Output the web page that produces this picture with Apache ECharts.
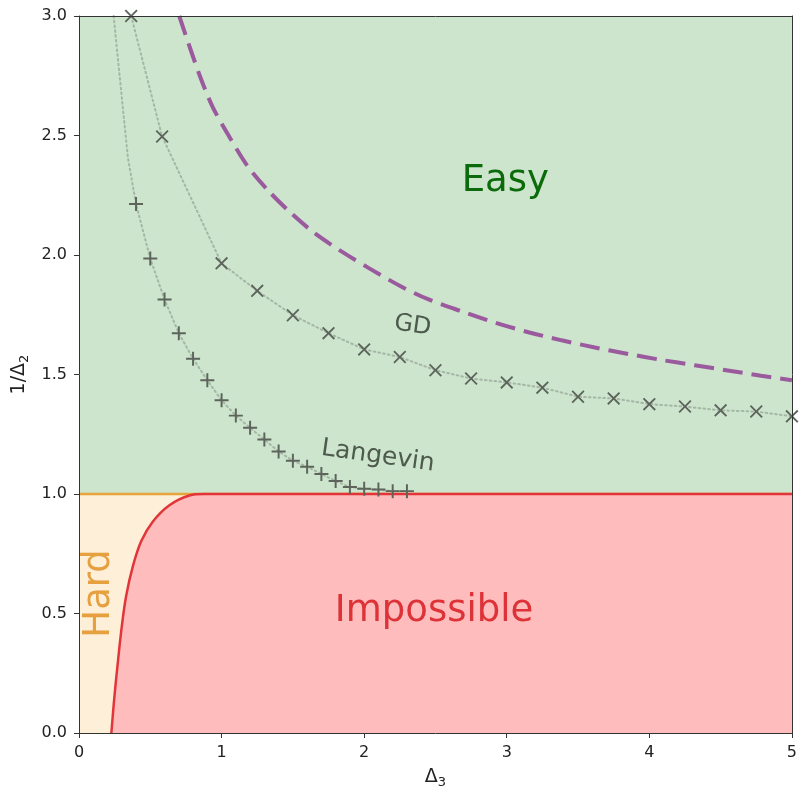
<!DOCTYPE html>
<html>
<head>
<meta charset="utf-8">
<script src="https://cdn.jsdelivr.net/npm/echarts@6/dist/echarts.min.js"></script>
<style>
html,body{margin:0;padding:0;background:#fff;overflow:hidden;}
#c{width:800px;height:794px;}
</style>
</head>
<body>
<div id="c"></div>
<script>
// ---- data ----
var xTicks = [0, 1, 2, 3, 4, 5];
var yTicks = [0.0, 0.5, 1.0, 1.5, 2.0, 2.5, 3.0];

// GD markers (x)
var gdX = [0.366, 0.583, 1.0, 1.25, 1.5, 1.75, 2.0, 2.25, 2.5, 2.75, 3.0, 3.25, 3.5, 3.75, 4.0, 4.25, 4.5, 4.75, 5.0];
var gdY = [3.0, 2.496, 1.965, 1.850, 1.748, 1.673, 1.605, 1.573, 1.518, 1.483, 1.467, 1.445, 1.407, 1.400, 1.376, 1.366, 1.350, 1.345, 1.325];

// Langevin markers (+)
var lgX = [0.4, 0.5, 0.6, 0.7, 0.8, 0.9, 1.0, 1.1, 1.2, 1.3, 1.4, 1.5, 1.6, 1.7, 1.8, 1.9, 2.0, 2.1, 2.2, 2.3];
var lgY = [2.213, 1.985, 1.814, 1.673, 1.566, 1.476, 1.392, 1.328, 1.277, 1.228, 1.178, 1.139, 1.114, 1.084, 1.054, 1.029, 1.022, 1.019, 1.012, 1.012];
// Langevin dotted line above the first marker
var lgTopX = [0.243, 0.273, 0.308, 0.343];
var lgTopY = [3.0, 2.82, 2.613, 2.407];

// purple dashed threshold curve
var dashX = [0.703, 0.844, 0.937, 1.054, 1.182, 1.334, 1.497, 1.66, 1.846, 2.033, 2.266, 2.452, 2.685, 2.919, 3.152, 3.385, 3.618, 3.851, 4.084, 4.317, 4.55, 4.783, 5.0];
var dashY = [3.0, 2.755, 2.620, 2.495, 2.372, 2.265, 2.170, 2.088, 2.013, 1.945, 1.866, 1.814, 1.764, 1.717, 1.677, 1.643, 1.613, 1.586, 1.561, 1.539, 1.517, 1.495, 1.476];

// red impossible boundary
var redX = [0.227, 0.248, 0.273, 0.301, 0.331, 0.378, 0.436, 0.517, 0.634, 0.774, 0.880, 5.0];
var redY = [0.0, 0.150, 0.299, 0.450, 0.574, 0.698, 0.802, 0.884, 0.953, 0.994, 1.0, 1.0];

// hard threshold line
var hardLineX = [0, 5];
var hardLineY = [1, 1];

// region names and anchors
var regionNames = ['Easy', 'Impossible', 'Hard', 'GD', 'Langevin'];
var regionAnchorX = [2.99, 2.49, 0.145, 2.34, 2.096];
var regionAnchorY = [2.307, 0.51, 0.584, 1.704, 1.158];

// ---- build ----
function zip(a, b) { return a.map(function (v, i) { return [v, b[i]]; }); }

var FONT = 'DejaVu Sans';
var xSym = 'path://M0,0.1 L0.1,0 L0.5,0.4 L0.9,0 L1,0.1 L0.6,0.5 L1,0.9 L0.9,1 L0.5,0.6 L0.1,1 L0,0.9 L0.4,0.5 Z';
var plusSym = 'path://M0,0.43 L1,0.43 L1,0.57 L0,0.57 Z M0.43,0 L0.57,0 L0.57,1 L0.43,1 Z';

var labelStyles = [
  {color: '#0b6b0b', fontSize: 37, rotate: 0},
  {color: '#dd3338', fontSize: 37, rotate: 0},
  {color: '#e6a040', fontSize: 37, rotate: 90},
  {color: '#4d5a4d', fontSize: 24, rotate: -8},
  {color: '#4d5a4d', fontSize: 25, rotate: -8}
];
var annData = regionNames.map(function (n, i) {
  return {
    name: n,
    value: [regionAnchorX[i], regionAnchorY[i]],
    label: {
      show: true, position: 'inside', formatter: n, align: 'center', verticalAlign: 'middle',
      color: labelStyles[i].color, fontSize: labelStyles[i].fontSize,
      rotate: labelStyles[i].rotate, fontFamily: FONT
    }
  };
});

var nameRich = {
  m: {fontSize: 19, lineHeight: 24, verticalAlign: 'middle', color: '#222', fontFamily: FONT},
  s: {fontSize: 13, lineHeight: 24, verticalAlign: 'bottom', color: '#222', fontFamily: FONT}
};

var el = document.getElementById('c');
var chart = echarts.init(el, null, {renderer: 'canvas', width: 800, height: 794});
var dotted = {color: '#a6b6a6', width: 2, type: [1.6, 3.2], cap: 'round'};
var markerColor = '#5c645c';

chart.setOption({
  animation: false,
  backgroundColor: '#ffffff',
  textStyle: {fontFamily: FONT},
  grid: {left: 79, right: 6, top: 16, bottom: 52, show: false},
  xAxis: [{
    type: 'value', min: xTicks[0], max: xTicks[xTicks.length - 1], interval: 1,
    name: '{m|Δ}{s|3}', nameLocation: 'middle', nameGap: 32,
    nameTextStyle: {rich: nameRich},
    axisLine: {show: true, onZero: false, lineStyle: {color: '#333', width: 1}},
    axisTick: {show: true, length: 5, lineStyle: {color: '#333'}},
    axisLabel: {color: '#222', fontSize: 16, margin: 12, fontFamily: FONT},
    splitLine: {show: false}, z: 10
  }, {
    type: 'value', position: 'top', min: 0, max: 5,
    axisLine: {show: true, onZero: false, lineStyle: {color: '#333', width: 1}},
    axisTick: {show: false}, axisLabel: {show: false}, splitLine: {show: false}, z: 10
  }],
  yAxis: [{
    type: 'value', min: yTicks[0], max: yTicks[yTicks.length - 1], interval: 0.5,
    name: '{m|1/Δ}{s|2}', nameLocation: 'middle', nameGap: 45, nameRotate: 90,
    nameTextStyle: {rich: nameRich},
    axisLine: {show: true, onZero: false, lineStyle: {color: '#333', width: 1}},
    axisTick: {show: true, length: 5, lineStyle: {color: '#333'}},
    axisLabel: {color: '#222', fontSize: 16, margin: 12, fontFamily: FONT,
      formatter: function (v) { return v.toFixed(1); }},
    splitLine: {show: false}, z: 10
  }, {
    type: 'value', position: 'right', min: 0, max: 3,
    axisLine: {show: true, onZero: false, lineStyle: {color: '#333', width: 1}},
    axisTick: {show: false}, axisLabel: {show: false}, splitLine: {show: false}, z: 10
  }],
  series: [
    { // regions backgrounds
      type: 'line', data: [], silent: true, z: 0,
      markArea: {
        silent: true,
        data: [
          [{yAxis: 1, itemStyle: {color: '#cce5cc'}}, {yAxis: 3}],
          [{yAxis: 0, itemStyle: {color: '#feefd9'}}, {yAxis: 1}]
        ]
      }
    },
    { // hard threshold line
      type: 'line', data: zip(hardLineX, hardLineY), showSymbol: false, silent: true, z: 2,
      lineStyle: {color: '#e8a33a', width: 2.5}
    },
    { // impossible region
      type: 'line', data: zip(redX, redY), showSymbol: false, silent: true, z: 3,
      smooth: 0.35,
      lineStyle: {color: '#e2353a', width: 2.5},
      areaStyle: {color: '#ffbcbc', opacity: 1, origin: 'start'}
    },
    { // purple dashed
      type: 'line', data: zip(dashX, dashY), showSymbol: false, silent: true, z: 4,
      smooth: 0.3, clip: true,
      lineStyle: {color: '#9b5a9e', width: 4, type: [20, 9]}
    },
    { // GD dotted line through markers
      type: 'line', data: zip(gdX, gdY),
      showSymbol: false, silent: true, z: 4, lineStyle: dotted
    },
    { // Langevin dotted line
      type: 'line', data: zip(lgTopX, lgTopY).concat(zip(lgX, lgY)),
      showSymbol: false, silent: true, z: 4, lineStyle: dotted
    },
    { // GD markers
      type: 'scatter', data: zip(gdX, gdY), symbol: xSym, symbolSize: 13, silent: true, z: 5,
      itemStyle: {color: markerColor, opacity: 1}
    },
    { // Langevin markers
      type: 'scatter', data: zip(lgX, lgY), symbol: plusSym, symbolSize: 14, silent: true, z: 5,
      itemStyle: {color: markerColor, opacity: 1}
    },
    { // region labels
      type: 'scatter', data: annData, symbol: 'circle', symbolSize: 1, silent: true, z: 6,
      itemStyle: {color: 'rgba(0,0,0,0)', opacity: 1}
    }
  ]
});
</script>
</body>
</html>
